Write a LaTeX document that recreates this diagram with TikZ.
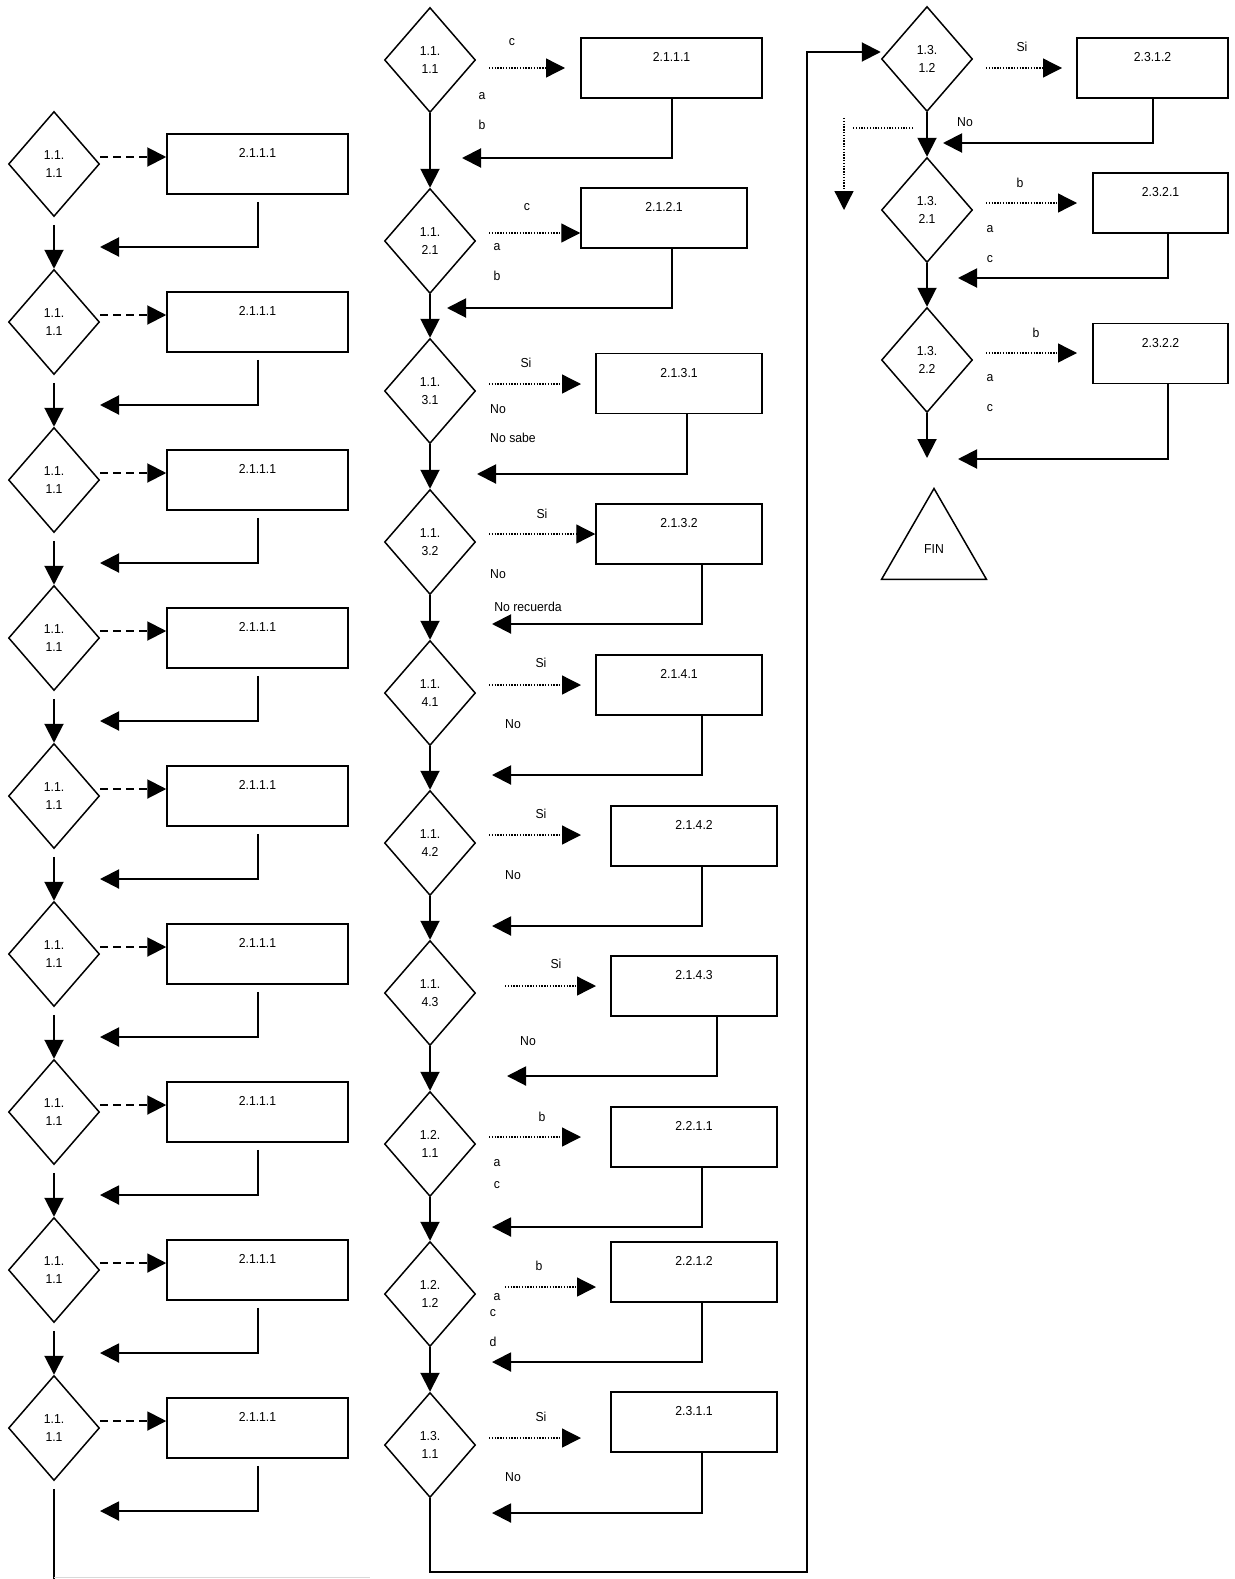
\documentclass[tikz,border=0pt]{standalone}
\usepackage{fontspec}
\setmainfont[FakeStretch=0.94]{Liberation Sans}
\usetikzlibrary{arrows.meta,shapes.geometric}

\begin{document}
\begin{tikzpicture}[x=1pt, y=-1pt,
    font=\fontsize{13}{18}\selectfont,
    punta/.tip={Triangle[length=19pt,width=19pt]},
    rombo/.style={draw, diamond, line width=1.5pt, minimum width=91pt,
        minimum height=105pt, inner sep=0pt, align=center},
    caja/.style={draw, rectangle, line width=1.5pt, minimum height=60pt, inner sep=0pt},
    texto/.style={anchor=north, yshift=-12pt},
    flecha/.style={line width=2pt, -punta},
    raya/.style={line width=2pt, dash pattern=on 8pt off 5pt, -punta},
    puntos/.style={line width=1.3pt, dash pattern=on 1.3pt off 1.5pt, -punta},
    fin/.style={draw, regular polygon, regular polygon sides=3, minimum size=121pt,
        inner sep=0pt, line width=1.5pt}]
    \useasboundingbox (0,0) rectangle (1234,1579);

    % columna izquierda
    \foreach \i in {0,...,8}{
        \pgfmathsetmacro\cy{164+158*\i}
        \node[rombo] (a\i) at (54,\cy) {1.1.\\1.1};
        \node[caja, minimum width=181pt, label={[texto]north:2.1.1.1}] (b\i) at (257.5,\cy) {};
        \draw[raya] ([yshift=7pt]a\i.east) -- ([yshift=7pt]b\i.west);
        \coordinate (v\i) at (100,\cy+83);
        \draw[flecha] ([yshift=-7pt]b\i.south) |- (v\i);
    }
    \foreach \i [count=\j from 1] in {0,...,7}
        \draw[flecha] ([yshift=-7.5pt]a\i.south) -- (a\j.north);
    \coordinate (fondo) at (54,1579);
    \draw[line width=2pt] ([yshift=-7.5pt]a8.south) -- (fondo);
    \draw[gray!30, line width=1pt] (54,1577) -- (370,1577);

    % columna central: rombos
    \node[rombo] (m1) at (430,60) {1.1.\\1.1};
    \node[rombo] (m2) at (430,241) {1.1.\\2.1};
    \node[rombo] (m3) at (430,391) {1.1.\\3.1};
    \node[rombo] (m4) at (430,542) {1.1.\\3.2};
    \node[rombo] (m5) at (430,693) {1.1.\\4.1};
    \node[rombo] (m6) at (430,843) {1.1.\\4.2};
    \node[rombo] (m7) at (430,993) {1.1.\\4.3};
    \node[rombo] (m8) at (430,1144) {1.2.\\1.1};
    \node[rombo] (m9) at (430,1294) {1.2.\\1.2};
    \node[rombo] (m10) at (430,1445) {1.3.\\1.1};
    \foreach \i [count=\j from 2] in {1,...,9}
        \draw[flecha] (m\i.south) -- (m\j.north);

    % columna central: cajas
    \node[caja, minimum width=181pt, label={[texto]north:2.1.1.1}] (n1) at (671.5,68) {};
    \node[caja, minimum width=166pt, label={[texto]north:2.1.2.1}] (n2) at (664,218) {};
    \node[caja, minimum width=166pt, label={[texto]north:2.1.3.1}] (n3) at (679,383.5) {};
    \node[caja, minimum width=166pt, label={[texto]north:2.1.3.2}] (n4) at (679,534) {};
    \node[caja, minimum width=166pt, label={[texto]north:2.1.4.1}] (n5) at (679,685) {};
    \node[caja, minimum width=166pt, label={[texto]north:2.1.4.2}] (n6) at (694,836) {};
    \node[caja, minimum width=166pt, label={[texto]north:2.1.4.3}] (n7) at (694,986) {};
    \node[caja, minimum width=166pt, label={[texto]north:2.2.1.1}] (n8) at (694,1137) {};
    \node[caja, minimum width=166pt, label={[texto]north:2.2.1.2}] (n9) at (694,1272) {};
    \node[caja, minimum width=166pt, label={[texto]north:2.3.1.1}] (n10) at (694,1422) {};

    % columna central: flechas punteadas
    \coordinate (p1) at (489,68);   \coordinate (t1) at (565,68);
    \coordinate (p2) at (489,233);
    \coordinate (p3) at (489,384);  \coordinate (t3) at (581,384);
    \coordinate (p4) at (489,534);
    \coordinate (p5) at (489,685);  \coordinate (t5) at (581,685);
    \coordinate (p6) at (489,835);  \coordinate (t6) at (581,835);
    \coordinate (p7) at (505,986);  \coordinate (t7) at (596,986);
    \coordinate (p8) at (489,1137); \coordinate (t8) at (581,1137);
    \coordinate (p9) at (505,1287); \coordinate (t9) at (596,1287);
    \coordinate (p10) at (489,1438); \coordinate (t10) at (581,1438);
    \draw[puntos] (p1) -- (t1);
    \draw[puntos] (p2) -- (p2 -| n2.west);
    \draw[puntos] (p3) -- (t3);
    \draw[puntos] (p4) -- (p4 -| n4.west);
    \foreach \k in {5,...,10}
        \draw[puntos] (p\k) -- (t\k);

    % columna central: retornos
    \coordinate (w1) at (462,158);
    \coordinate (w2) at (447,308);
    \coordinate (w3) at (477,474);
    \coordinate (w4) at (492,624);
    \coordinate (w5) at (492,775);
    \coordinate (w6) at (492,926);
    \coordinate (w7) at (507,1076);
    \coordinate (w8) at (492,1227);
    \coordinate (w9) at (492,1362);
    \coordinate (w10) at (492,1513);
    \draw[flecha] (n1.south) |- (w1);
    \draw[flecha] ([xshift=8pt]n2.south) |- (w2);
    \draw[flecha] ([xshift=8pt]n3.south) |- (w3);
    \draw[flecha] ([xshift=23pt]n4.south) |- (w4);
    \draw[flecha] ([xshift=23pt]n5.south) |- (w5);
    \draw[flecha] ([xshift=8pt]n6.south) |- (w6);
    \draw[flecha] ([xshift=23pt]n7.south) |- (w7);
    \draw[flecha] ([xshift=8pt]n8.south) |- (w8);
    \draw[flecha] ([xshift=8pt]n9.south) |- (w9);
    \draw[flecha] ([xshift=8pt]n10.south) |- (w10);

    % columna central: etiquetas
    \node at (512,42) {c};   \node at (482,96) {a};   \node at (482,125) {b};
    \node at (527,207) {c};  \node at (497,247) {a};  \node at (497,276) {b};
    \node at (526,363) {Si}; \node at (498,409) {No}; \node at (513,438) {No sabe};
    \node at (542,514) {Si}; \node at (498,574) {No}; \node at (528,607) {No recuerda};
    \node at (541,663) {Si}; \node at (513,724) {No};
    \node at (541,814) {Si}; \node at (513,875) {No};
    \node at (556,964) {Si}; \node at (528,1041) {No};
    \node at (542,1117) {b}; \node at (497,1163) {a}; \node at (497,1185) {c};
    \node at (539,1266) {b}; \node at (497,1297) {a}; \node at (493,1313) {c};
    \node at (493,1342) {d};
    \node at (541,1417) {Si}; \node at (513,1477) {No};

    % paso a la columna derecha
    \node[rombo] (r1) at (927,59) {1.3.\\1.2};
    \coordinate (e1) at (807,1572);
    \coordinate (e2) at (807,52);
    \draw[flecha] (m10.south) |- (e1) -- (e2) -- (r1.west |- e2);

    % columna derecha
    \node[rombo] (r2) at (927,210) {1.3.\\2.1};
    \node[rombo] (r3) at (927,360) {1.3.\\2.2};
    \node[caja, minimum width=151pt, label={[texto]north:2.3.1.2}] (q1) at (1152.5,68) {};
    \node[caja, minimum width=135pt, label={[texto]north:2.3.2.1}] (q2) at (1160.5,203) {};
    \node[caja, minimum width=135pt, label={[texto]north:2.3.2.2}] (q3) at (1160.5,353.5) {};
    \node[fin] (fin) at (934,549) {FIN};

    \draw[flecha] (r1.south) -- (r2.north);
    \draw[flecha] (r2.south) -- (r3.north);
    \coordinate (z3) at (927,458);
    \draw[flecha] (r3.south) -- (z3);

    \coordinate (s1) at (986,68);  \coordinate (u1) at (1062,68);
    \coordinate (s2) at (986,203); \coordinate (u2) at (1077,203);
    \coordinate (s3) at (986,353); \coordinate (u3) at (1077,353);
    \foreach \k in {1,2,3}
        \draw[puntos] (s\k) -- (u\k);

    \coordinate (y1) at (943,143);
    \coordinate (y2) at (958,278);
    \coordinate (y3) at (958,459);
    \draw[flecha] (q1.south) |- (y1);
    \draw[flecha] ([xshift=7.5pt]q2.south) |- (y2);
    \draw[flecha] ([xshift=7.5pt]q3.south) |- (y3);

    % flecha punteada suelta
    \coordinate (h1) at (913,128); \coordinate (h2) at (853,128);
    \coordinate (k1) at (844,118); \coordinate (k2) at (844,210);
    \draw[line width=1.3pt, dash pattern=on 1.3pt off 1.5pt] (h1) -- (h2);
    \draw[puntos] (k1) -- (k2);

    % columna derecha: etiquetas
    \node at (1022,47) {Si};  \node at (965,122) {No};
    \node at (1020,183) {b};  \node at (990,229) {a};  \node at (990,259) {c};
    \node at (1036,333) {b};  \node at (990,378) {a};  \node at (990,408) {c};
\end{tikzpicture}
\end{document}
